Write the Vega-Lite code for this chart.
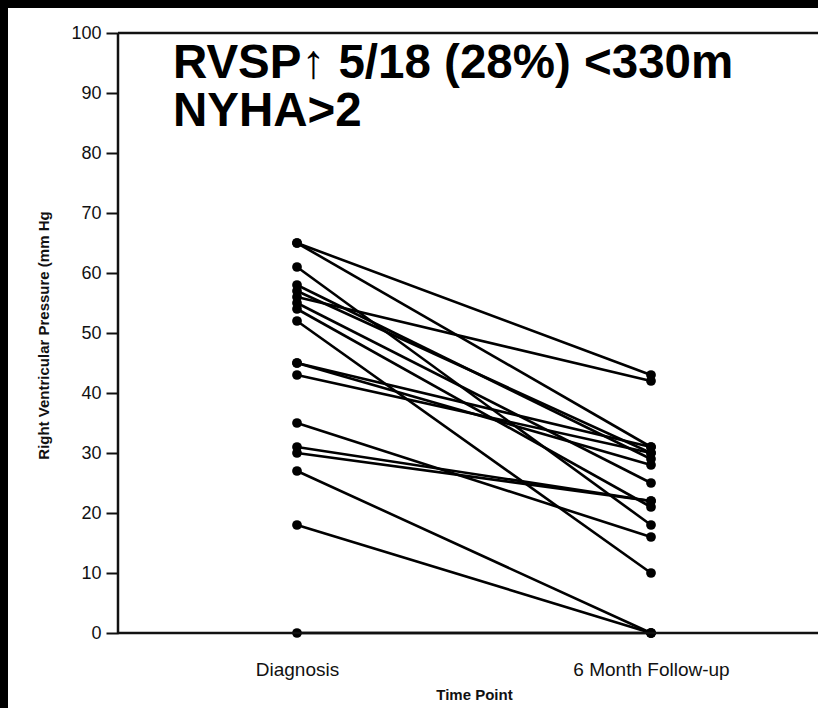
{
  "$schema": "https://vega.github.io/schema/vega-lite/v6.json",
  "width": 810,
  "height": 700,
  "autosize": {"type": "none"},
  "padding": {"left": 8, "top": 8, "right": 0, "bottom": 0},
  "background": "black",
  "config": {
    "view": {"fill": "white", "stroke": null},
    "font": "Liberation Sans"
  },
  "data": {
    "values": [
      {"id": 1, "time": 1, "value": 65}, {"id": 1, "time": 2, "value": 43},
      {"id": 2, "time": 1, "value": 65}, {"id": 2, "time": 2, "value": 31},
      {"id": 3, "time": 1, "value": 61}, {"id": 3, "time": 2, "value": 18},
      {"id": 4, "time": 1, "value": 58}, {"id": 4, "time": 2, "value": 29},
      {"id": 5, "time": 1, "value": 57}, {"id": 5, "time": 2, "value": 30},
      {"id": 6, "time": 1, "value": 56}, {"id": 6, "time": 2, "value": 42},
      {"id": 7, "time": 1, "value": 55}, {"id": 7, "time": 2, "value": 25},
      {"id": 8, "time": 1, "value": 54}, {"id": 8, "time": 2, "value": 21},
      {"id": 9, "time": 1, "value": 52}, {"id": 9, "time": 2, "value": 10},
      {"id": 10, "time": 1, "value": 45}, {"id": 10, "time": 2, "value": 31},
      {"id": 11, "time": 1, "value": 45}, {"id": 11, "time": 2, "value": 28},
      {"id": 12, "time": 1, "value": 43}, {"id": 12, "time": 2, "value": 30},
      {"id": 13, "time": 1, "value": 35}, {"id": 13, "time": 2, "value": 16},
      {"id": 14, "time": 1, "value": 31}, {"id": 14, "time": 2, "value": 22},
      {"id": 15, "time": 1, "value": 30}, {"id": 15, "time": 2, "value": 22},
      {"id": 16, "time": 1, "value": 27}, {"id": 16, "time": 2, "value": 0},
      {"id": 17, "time": 1, "value": 18}, {"id": 17, "time": 2, "value": 0},
      {"id": 18, "time": 1, "value": 0}, {"id": 18, "time": 2, "value": 0}
    ]
  },
  "layer": [
    {
      "mark": {"type": "line", "color": "#000", "strokeWidth": 2.6},
      "encoding": {
        "x": {
          "field": "time", "type": "quantitative",
          "scale": {"domain": [0.18362, 2.47175], "nice": false, "zero": false},
          "axis": {
            "values": [1, 2],
            "labelExpr": "datum.value == 1 ? 'Diagnosis' : '6 Month Follow-up'",
            "offset": -75,
            "domain": false,
            "ticks": false,
            "grid": false,
            "labelPadding": 27,
            "labelFontSize": 19,
            "labelColor": "#111",
            "labelFlush": false,
            "labelOverlap": false,
            "title": "Time Point",
            "titleFontSize": 15,
            "titleFontWeight": "bold",
            "titleColor": "#111",
            "titleX": 466,
            "titleY": 61,
            "titleBaseline": "middle",
            "titleAlign": "center"
          }
        },
        "y": {
          "field": "value", "type": "quantitative",
          "scale": {"domain": [-12.5, 104.1667], "nice": false, "zero": false},
          "axis": {
            "values": [0, 10, 20, 30, 40, 50, 60, 70, 80, 90, 100],
            "offset": -110,
            "domain": false,
            "grid": false,
            "tickSize": 12,
            "tickWidth": 2,
            "tickColor": "#111",
            "labelPadding": 5,
            "labelFontSize": 18,
            "labelColor": "#111",
            "labelFlush": false,
            "labelOverlap": false,
            "title": "Right Ventricular Pressure (mm Hg",
            "titleFontSize": 15,
            "titleFontWeight": "bold",
            "titleColor": "#111",
            "titleX": -75,
            "titleY": 327,
            "titleBaseline": "middle",
            "titleAlign": "center",
            "titleAngle": 270
          }
        },
        "detail": {"field": "id"}
      }
    },
    {
      "mark": {"type": "circle", "color": "#000", "opacity": 1, "size": 95},
      "encoding": {
        "x": {"field": "time", "type": "quantitative"},
        "y": {"field": "value", "type": "quantitative"}
      }
    },
    {
      "data": {"values": [{"edge": "left"}]},
      "mark": {"type": "rule", "color": "#111", "strokeWidth": 2.5},
      "encoding": {
        "x": {"datum": 0.49435},
        "y": {"datum": 0},
        "y2": {"datum": 100}
      }
    },
    {
      "data": {"values": [{"edge": "top"}]},
      "mark": {"type": "rule", "color": "#111", "strokeWidth": 2.5},
      "encoding": {
        "x": {"datum": 0.49435},
        "x2": {"datum": 2.47175},
        "y": {"datum": 100}
      }
    },
    {
      "data": {"values": [{"edge": "bottom"}]},
      "mark": {"type": "rule", "color": "#111", "strokeWidth": 2.5},
      "encoding": {
        "x": {"datum": 0.49435},
        "x2": {"datum": 2.47175},
        "y": {"datum": 0}
      }
    },
    {
      "data": {"values": [{"label": "RVSP↑ 5/18 (28%) <330m"}]},
      "mark": {"type": "text", "align": "left", "baseline": "alphabetic", "fontSize": 47.5, "fontWeight": "bold", "color": "#000", "lineHeight": 48},
      "encoding": {
        "x": {"datum": 0.6497},
        "y": {"datum": 92.5},
        "text": {"value": ["RVSP↑ 5/18 (28%) <330m", "NYHA>2"]}
      }
    }
  ]
}
